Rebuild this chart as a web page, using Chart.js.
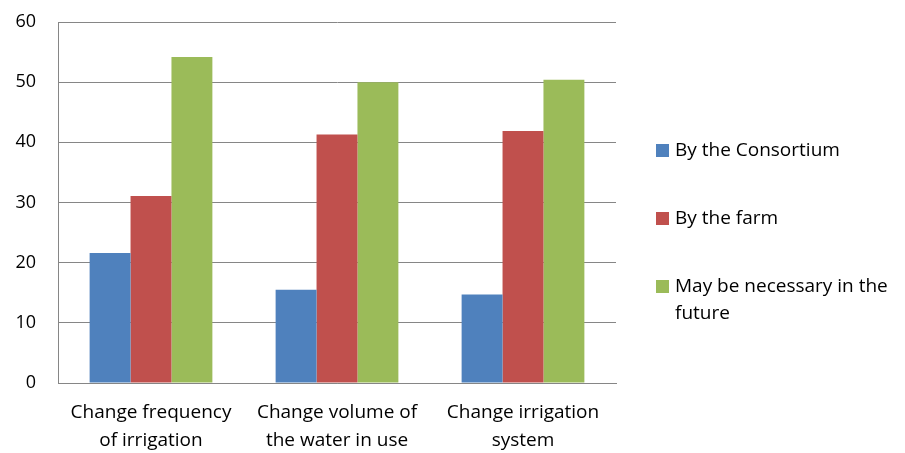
<!DOCTYPE html>
<html>
<head>
<meta charset="utf-8">
<script src="https://cdn.jsdelivr.net/npm/chart.js@4"></script>
<style>
  html, body { margin: 0; padding: 0; background: #fff; }
  #wrap { position: relative; width: 905px; height: 453px; }
  #legend { position: absolute; left: 656px; top: 136px; width: 249px;
            font-family: "Open Sans", sans-serif; font-size: 19px; color: #000; }
  .item { position: relative; padding-left: 19px; line-height: 27px; margin-bottom: 41px; }
  .box { position: absolute; left: 0; top: 8px; width: 13px; height: 13px; }
</style>
</head>
<body>
<div id="wrap">
  <canvas id="myChart" width="905" height="453"></canvas>
  <div id="legend"></div>
</div>
<script>
const categories = [
  ['Change frequency', 'of irrigation'],
  ['Change volume of', 'the water in use'],
  ['Change irrigation', 'system']
];
const seriesNames = ['By the Consortium', 'By the farm', 'May be necessary in the future'];
const consortium = [21.6, 15.5, 14.7];
const farm = [31.1, 41.3, 41.9];
const future = [54.2, 50.0, 50.4];
const colors = ['#4F81BD', '#C0504D', '#9BBB59'];

const ctx = document.getElementById('myChart');
const chart = new Chart(ctx, {
  type: 'bar',
  data: {
    labels: categories,
    datasets: [consortium, farm, future].map((d, i) => ({
      label: seriesNames[i],
      data: d,
      backgroundColor: colors[i],
      borderWidth: 0,
      barPercentage: 1,
      categoryPercentage: 0.66
    }))
  },
  options: {
    responsive: false,
    animation: false,
    layout: { padding: { left: 0, top: 22, right: 289, bottom: 0 } },
    plugins: { legend: { display: false }, tooltip: { enabled: false } },
    scales: {
      x: {
        grid: { display: false, drawTicks: false },
        border: { color: '#868686', width: 1 },
        ticks: {
          color: '#000',
          font: { family: 'Open Sans', size: 19, lineHeight: 1.47 },
          padding: 16,
          maxRotation: 0
        },
        afterFit: (s) => { s.height = 70; }
      },
      y: {
        min: 0,
        max: 60,
        ticks: {
          stepSize: 10,
          color: '#000',
          font: { family: 'Open Sans', size: 18 },
          padding: 0
        },
        // invisible tick marks keep the labels away from the axis
        grid: { color: '#868686', tickLength: 22, tickColor: 'rgba(0,0,0,0)' },
        border: { color: '#868686', width: 1 },
        afterFit: (s) => { s.width = 58; }
      }
    }
  }
});

// legend on the right, text wraps like the original
const legend = document.getElementById('legend');
chart.data.datasets.forEach(ds => {
  const item = document.createElement('div');
  item.className = 'item';
  const box = document.createElement('span');
  box.className = 'box';
  box.style.background = ds.backgroundColor;
  item.appendChild(box);
  item.appendChild(document.createTextNode(ds.label));
  legend.appendChild(item);
});
</script>
</body>
</html>
